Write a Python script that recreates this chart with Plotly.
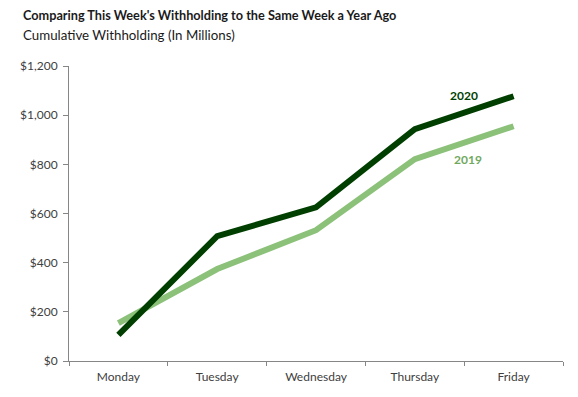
import plotly.graph_objects as go

days = ["Monday", "Tuesday", "Wednesday", "Thursday", "Friday"]
w2020 = [106, 508, 625, 943, 1077]
w2019 = [154, 374, 532, 821, 955]

DARK = "#003F00"
LIGHT = "#8CC17A"
FONT = "Lato"

# page body has an 8px margin, so the figure is sized/offset accordingly
W, H = 570, 389
L, R, T, B = 53, 15, 58, 36
PW, PH = W - L - R, H - T - B

fig = go.Figure()
fig.add_trace(go.Scatter(x=days, y=w2019, mode="lines", name="2019",
                         line=dict(color=LIGHT, width=6)))
fig.add_trace(go.Scatter(x=days, y=w2020, mode="lines", name="2020",
                         line=dict(color=DARK, width=6)))

fig.add_annotation(x=3.5, y=1078, text="<b>2020</b>", showarrow=False,
                   font=dict(family=FONT, size=12, color=DARK))
fig.add_annotation(x=3.54, y=819, text="<b>2019</b>", showarrow=False,
                   font=dict(family=FONT, size=12, color="#70A85E"))

fig.add_annotation(xref="paper", yref="paper", x=(4 - L) / PW, y=1 + (T - 7) / PH,
                   xanchor="left", yanchor="middle", showarrow=False,
                   text="<b>Comparing This Week's Withholding to the Same Week a Year Ago</b>",
                   font=dict(family=FONT, size=12.7, color="#1a1a1a"))
fig.add_annotation(xref="paper", yref="paper", x=(4 - L) / PW, y=1 + (T - 27) / PH,
                   xanchor="left", yanchor="middle", showarrow=False,
                   text="Cumulative Withholding (In Millions)",
                   font=dict(family=FONT, size=13.3, color="#1a1a1a"))

fig.update_layout(
    width=W, height=H,
    margin=dict(l=L, r=R, t=T, b=B),
    paper_bgcolor="white", plot_bgcolor="white",
    showlegend=False,
    font=dict(family=FONT, size=11, color="#404040"),
)
fig.update_xaxes(type="category", range=[-0.5, 4.5], showgrid=False,
                 showline=True, linecolor="#868686", linewidth=1,
                 ticks="outside", ticklen=4, tickcolor="#868686",
                 tickson="boundaries", ticklabelstandoff=5,
                 tickfont=dict(size=12, color="#404040"))
fig.update_yaxes(range=[0, 1200], dtick=200, showgrid=False, zeroline=False,
                 showline=True, linecolor="#868686", linewidth=1,
                 ticks="outside", ticklen=5, tickcolor="#868686",
                 tickprefix="$", tickformat=",d", ticklabelstandoff=3,
                 tickfont=dict(size=12, color="#404040"))

fig.write_html("out.html")
